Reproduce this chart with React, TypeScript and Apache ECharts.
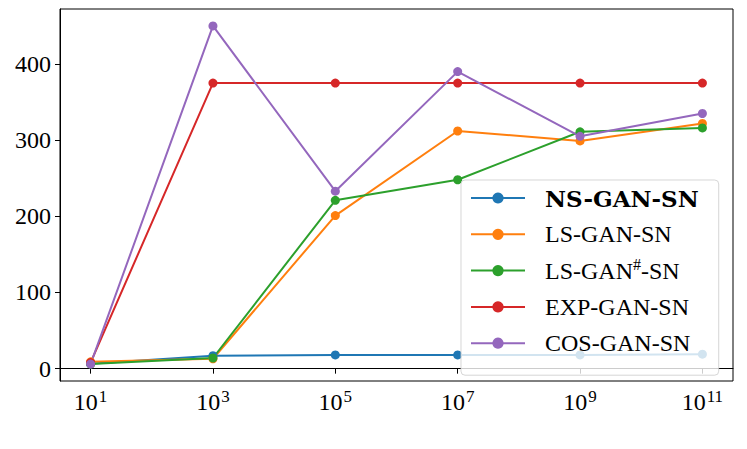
import React, { useEffect, useRef } from "react";
import * as echarts from "echarts";

const xExponents = [1, 3, 5, 7, 9, 11];
const yTicks = [0, 100, 200, 300, 400];

const seriesNames = ["NS-GAN-SN", "LS-GAN-SN", "LS-GAN#-SN", "EXP-GAN-SN", "COS-GAN-SN"];
const nsGan = [6.5, 17, 18, 18, 18, 19];
const lsGan = [9, 13, 201, 312, 299, 322];
const lsGanSharp = [6, 14, 221, 248, 311, 316];
const expGan = [8, 375, 375, 375, 375, 375];
const cosGan = [6, 450, 233, 390, 305, 335];
const colors = ["#1f77b4", "#ff7f0e", "#2ca02c", "#d62728", "#9467bd"];

const FONT = "Liberation Serif";

export default function App() {
  const ref = useRef<HTMLDivElement>(null);
  useEffect(() => {
    if (!ref.current) return;
    const chart = echarts.init(ref.current, null, { renderer: "svg" });
    const all = [nsGan, lsGan, lsGanSharp, expGan, cosGan];
    const flat = all.flat();
    const dmin = Math.min(...flat);
    const dmax = Math.max(...flat);
    const pad = (dmax - dmin) * 0.05;
    chart.setOption({
      animation: false,
      textStyle: { fontFamily: FONT },
      grid: {
        left: 60,
        right: 14,
        top: 9,
        bottom: 68,
        containLabel: false,
        outerBoundsMode: "none",
        show: true,
        borderColor: "#000",
        borderWidth: 1,
        backgroundColor: "transparent",
      },
      xAxis: {
        type: "value",
        min: xExponents[0] - 0.5,
        max: xExponents[xExponents.length - 1] + 0.5,
        splitLine: { show: false },
        axisLine: { show: true, lineStyle: { color: "#000", width: 1 } },
        axisTick: { show: true, length: 5, lineStyle: { color: "#000" }, customValues: xExponents },
        axisLabel: {
          customValues: xExponents,
          margin: 7,
          color: "#000",
          fontFamily: FONT,
          fontSize: 24,
          formatter: (v: number) => `{b|10}{s|${v}}`,
          rich: {
            b: { fontSize: 24, fontFamily: FONT, color: "#000", lineHeight: 26, verticalAlign: "bottom" },
            s: { fontSize: 17, fontFamily: FONT, color: "#000", lineHeight: 26, verticalAlign: "top", padding: [0, 0, 8, 1] },
          },
        },
      },
      yAxis: {
        type: "value",
        min: dmin - pad,
        max: dmax + pad,
        splitLine: { show: false },
        axisLine: { show: true, lineStyle: { color: "#000", width: 1 } },
        axisTick: { show: true, length: 5, lineStyle: { color: "#000" }, customValues: yTicks },
        axisLabel: {
          customValues: yTicks,
          margin: 9,
          color: "#000",
          fontSize: 24,
          fontFamily: FONT,
          formatter: (v: number) => `{n|${Math.round(v)}}`,
          rich: {
            n: { fontSize: 24, fontFamily: FONT, color: "#000" },
          },
        },
      },
      legend: {
        orient: "vertical",
        left: 461,
        top: 180,
        padding: [4, 20, 18, 9],
        itemWidth: 54,
        itemHeight: 14,
        itemGap: 8.3,
        backgroundColor: "rgba(255,255,255,0.8)",
        borderColor: "rgba(204,204,204,0.8)",
        borderWidth: 1,
        borderRadius: 4,
        lineStyle: { width: 2 },
        data: seriesNames,
        formatter: (name: string) => {
          if (name === "NS-GAN-SN") return `{bold|${name}}`;
          if (name === "LS-GAN#-SN") return `{n|LS-GAN}{s|#}{n|-SN}`;
          return `{n|${name}}`;
        },
        textStyle: {
          fontFamily: FONT,
          fontSize: 24,
          color: "#000",
          lineHeight: 28,
          padding: [0, 0, 0, 15],
          rich: {
            n: { fontFamily: FONT, fontSize: 24, color: "#000", lineHeight: 28 },
            bold: { fontFamily: "DejaVu Serif", fontSize: 23, fontWeight: "bold", color: "#000", lineHeight: 28 },
            s: { fontFamily: FONT, fontSize: 16, color: "#000", lineHeight: 28, verticalAlign: "top", padding: [0, 0, 6, 0] },
          },
        },
      },
      series: all.map((vals, i) => ({
        name: seriesNames[i],
        type: "line",
        data: xExponents.map((e, j) => [e, vals[j]]),
        symbol: "circle",
        symbolSize: 9,
        showSymbol: true,
        lineStyle: { color: colors[i], width: 2 },
        itemStyle: { color: colors[i] },
        emphasis: { disabled: true },
      })),
    });
    return () => chart.dispose();
  }, []);
  return <div ref={ref} style={{ position: "absolute", left: 0, top: 0, width: 747, height: 449 }} />;
}
